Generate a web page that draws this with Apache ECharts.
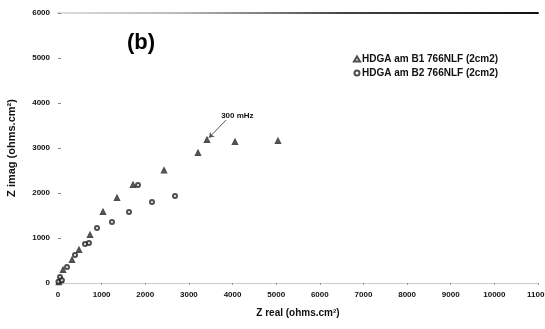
<!DOCTYPE html>
<html><head><meta charset="utf-8">
<script src="https://cdn.jsdelivr.net/npm/echarts@6/dist/echarts.min.js"></script>
<style>html,body{margin:0;padding:0;background:#fff}#c{width:545px;height:329px}</style>
</head><body><div id="c"></div>
<script>
const seriesNames = ['HDGA am B1 766NLF (2cm2)', 'HDGA am B2 766NLF (2cm2)'];
const b1Real = [20, 60, 115, 321, 481, 733, 1031, 1352, 1719, 2430, 3208, 3414, 4056, 5041];
const b1Imag = [15, 60, 290, 511, 733, 1067, 1578, 1889, 2178, 2500, 2889, 3178, 3133, 3156];
const b2Real = [10, 46, 90, 206, 390, 619, 710, 894, 1237, 1627, 1833, 2154, 2681];
const b2Imag = [30, 133, 60, 356, 622, 867, 889, 1222, 1356, 1578, 2178, 1800, 1933];
const xTicks = [0, 1000, 2000, 3000, 4000, 5000, 6000, 7000, 8000, 9000, 10000, 11000];
const yTicks = [0, 1000, 2000, 3000, 4000, 5000, 6000];
const annotText = '300 mHz';
const annotFrom = [3850, 3620];
const annotTo = [3460, 3230];

const pair = (xs, ys) => xs.map((x, i) => [x, ys[i]]);
const font = 'Liberation Sans, Arial, sans-serif';
const chart = echarts.init(document.getElementById('c'));
const ax = {fontFamily: font, fontWeight: 'bold', fontSize: 8, color: '#111', formatter: v => String(v)};
chart.setOption({
  animation: false,
  grid: {left: 58, right: 7, top: 13, bottom: 46, outerBoundsMode: 'none', containLabel: false},
  title: {text: '(b)', left: 122, top: 27, textStyle: {fontFamily: font, fontWeight: 'bold', fontSize: 22, color: '#000'}},
  legend: {
    orient: 'vertical', left: 348, top: 49, itemGap: 4, itemWidth: 6, itemHeight: 5, itemStyle: {borderWidth: 1},
    textStyle: {fontFamily: font, fontWeight: 'bold', fontSize: 10, color: '#111', padding: [0, 0, 0, -3]},
    data: seriesNames
  },
  xAxis: [{
    type: 'value', min: xTicks[0], max: xTicks[xTicks.length - 1], interval: 1000,
    name: 'Z real (ohms.cm²)', nameLocation: 'middle', nameGap: 25,
    nameTextStyle: {fontFamily: font, fontWeight: 'bold', fontSize: 10, color: '#111'},
    axisLine: {show: true, lineStyle: {color: '#ccc', width: 1}},
    axisTick: {show: true, length: 2, lineStyle: {color: '#999'}},
    axisLabel: Object.assign({margin: 8}, ax),
    splitLine: {show: false}
  }, {
    type: 'value', position: 'top', min: xTicks[0], max: xTicks[xTicks.length - 1],
    axisLine: {show: true, lineStyle: {width: 2, color: new echarts.graphic.LinearGradient(0, 0, 1, 0, [
      {offset: 0, color: '#ddd'}, {offset: 0.25, color: '#bbb'}, {offset: 0.6, color: '#444'}, {offset: 1, color: '#111'}])}},
    axisTick: {show: false}, axisLabel: {show: false}, splitLine: {show: false}
  }],
  yAxis: {
    type: 'value', min: yTicks[0], max: yTicks[yTicks.length - 1], interval: 1000,
    name: 'Z imag (ohms.cm²)', nameLocation: 'middle', nameGap: 41,
    nameTextStyle: {fontFamily: font, fontWeight: 'bold', fontSize: 11, color: '#111'},
    axisLine: {show: false},
    axisTick: {show: true, length: 3, inside: true, lineStyle: {color: '#888'}},
    axisLabel: Object.assign({margin: 8}, ax),
    splitLine: {show: false}
  },
  series: [{
    name: seriesNames[0], type: 'scatter', symbol: 'emptyTriangle', symbolSize: 4,
    itemStyle: {color: '#222', borderColor: '#222', borderWidth: 1.3},
    data: pair(b1Real, b1Imag),
    markLine: {
      silent: true, symbol: ['none', 'arrow'], symbolSize: 5,
      lineStyle: {color: '#555', width: 1, type: 'solid'},
      label: {show: true, position: 'start', formatter: annotText, fontFamily: font, fontWeight: 'bold', fontSize: 8, color: '#111', distance: 2, offset: [10, -3]},
      data: [[{coord: annotFrom}, {coord: annotTo}]]
    }
  }, {
    name: seriesNames[1], type: 'scatter', symbol: 'emptyCircle', symbolSize: 4,
    itemStyle: {color: '#222', borderColor: '#222', borderWidth: 1.3},
    data: pair(b2Real, b2Imag)
  }]
});
</script></body></html>
